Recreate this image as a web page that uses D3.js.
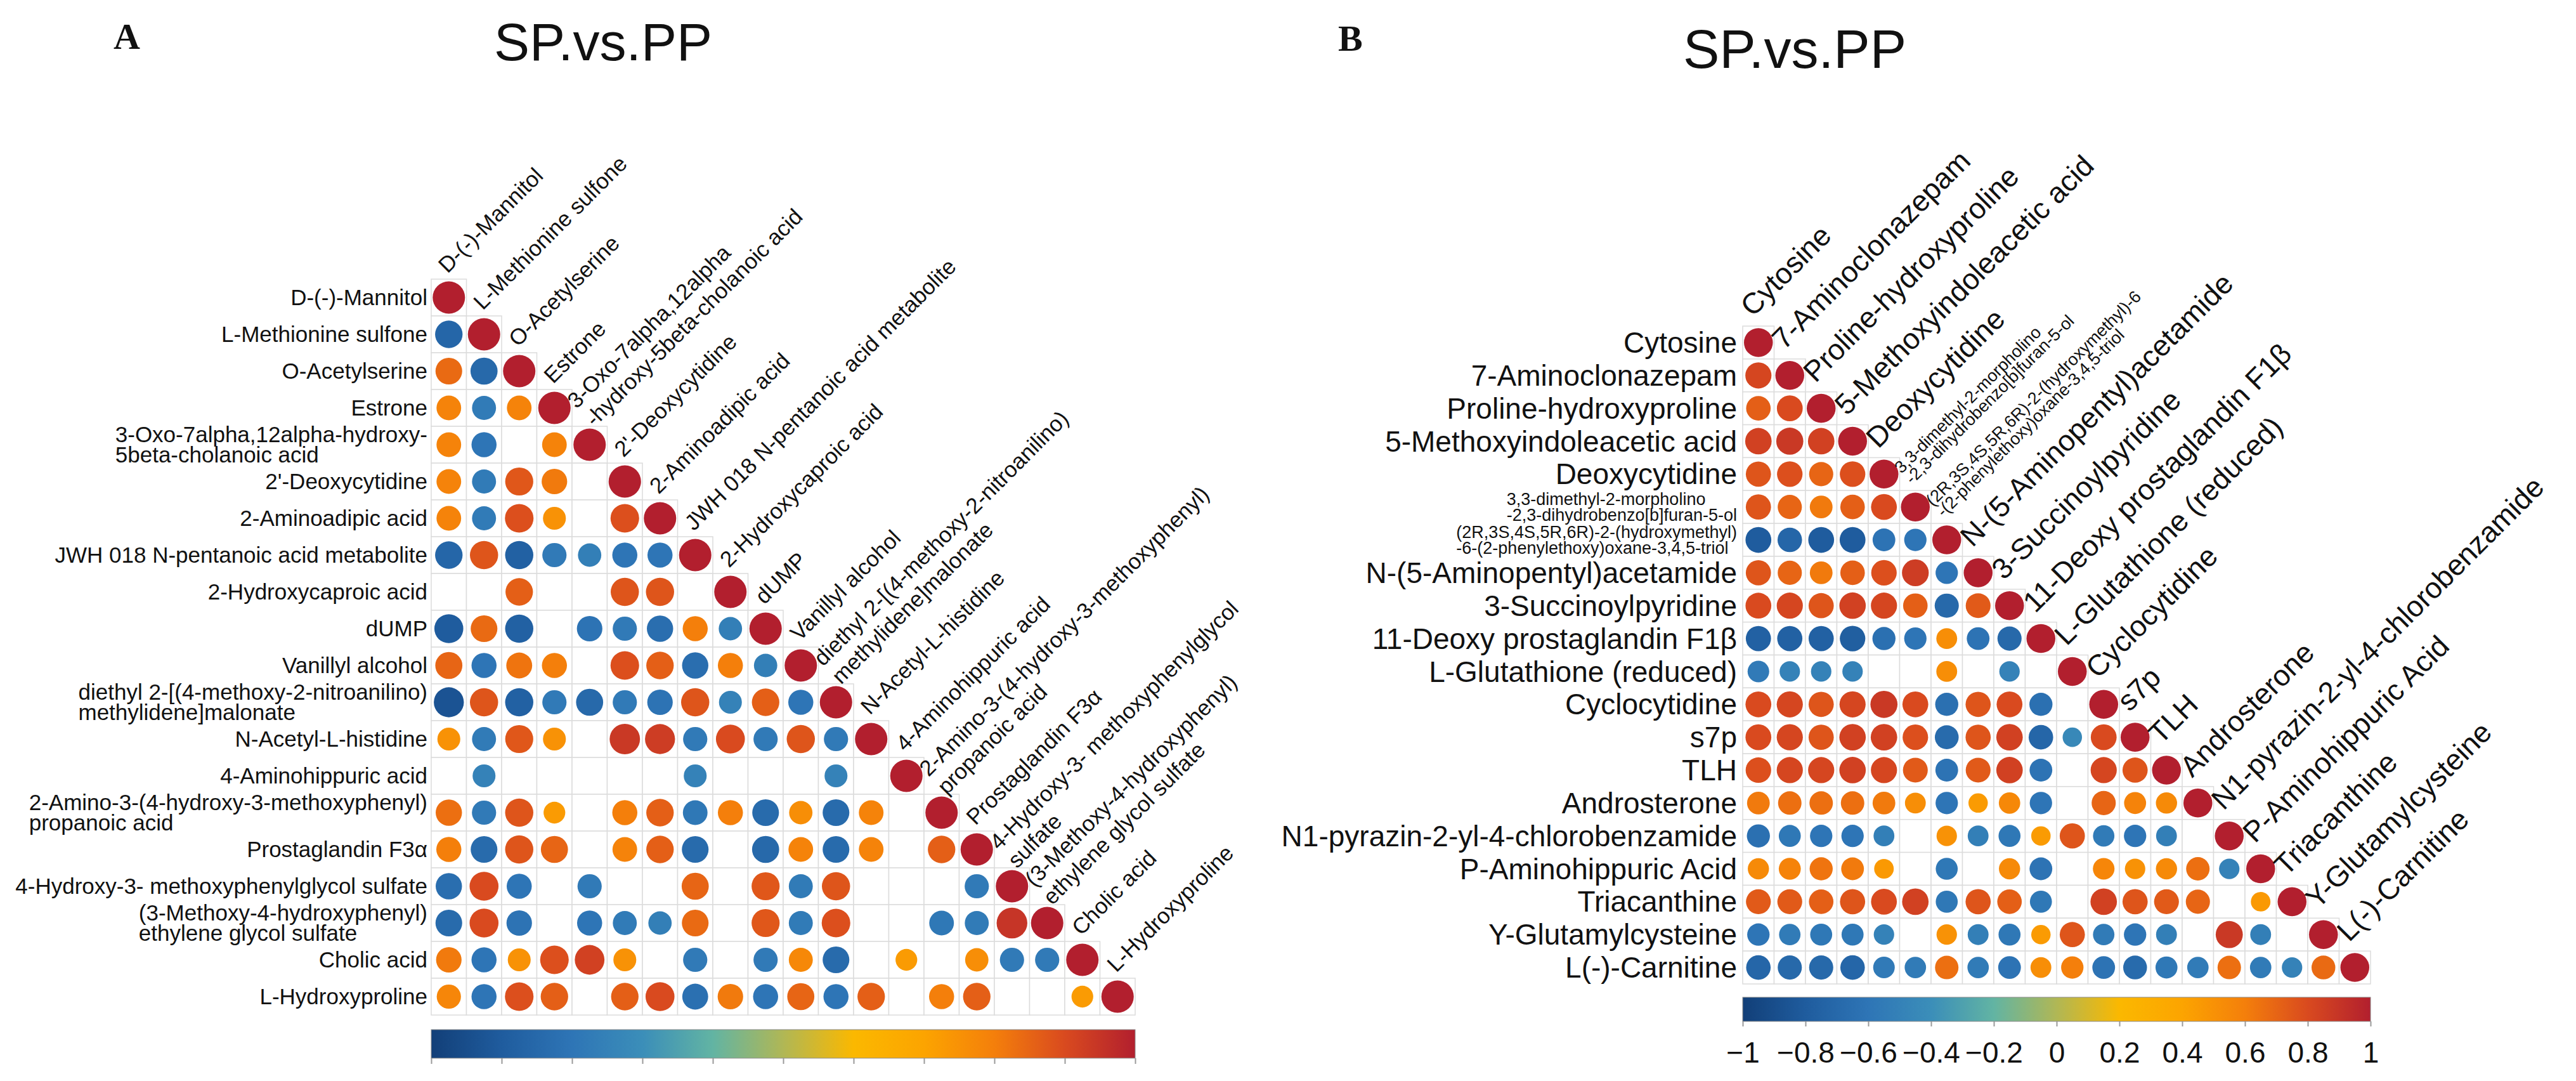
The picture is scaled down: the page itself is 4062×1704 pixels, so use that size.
<!DOCTYPE html>
<html>
<head>
<meta charset="utf-8">
<script src="https://cdn.jsdelivr.net/npm/d3@7"></script>
<style>
  body { margin: 0; background: #fff; }
  text { font-family: "Liberation Sans", Arial, sans-serif; fill: #111; }
  .panel-tag { font-family: "Liberation Serif", "Times New Roman", serif; font-weight: bold; }
</style>
</head>
<body>
<svg id="chart" width="4062" height="1704"></svg>
<script>
// row and column names, panel A
const rowsA = [
  "D-(-)-Mannitol", "L-Methionine sulfone", "O-Acetylserine", "Estrone",
  "3-Oxo-7alpha,12alpha-hydroxy-\n5beta-cholanoic acid", "2'-Deoxycytidine",
  "2-Aminoadipic acid", "JWH 018 N-pentanoic acid metabolite", "2-Hydroxycaproic acid",
  "dUMP", "Vanillyl alcohol", "diethyl 2-[(4-methoxy-2-nitroanilino)\nmethylidene]malonate",
  "N-Acetyl-L-histidine", "4-Aminohippuric acid",
  "2-Amino-3-(4-hydroxy-3-methoxyphenyl)\npropanoic acid", "Prostaglandin F3\u03b1",
  "4-Hydroxy-3- methoxyphenylglycol sulfate",
  "(3-Methoxy-4-hydroxyphenyl)\nethylene glycol sulfate", "Cholic acid", "L-Hydroxyproline"
];
const colsA = [
  "D-(-)-Mannitol", "L-Methionine sulfone", "O-Acetylserine", "Estrone",
  "3-Oxo-7alpha,12alpha\n-hydroxy-5beta-cholanoic acid", "2'-Deoxycytidine",
  "2-Aminoadipic acid", "JWH 018 N-pentanoic acid metabolite", "2-Hydroxycaproic acid",
  "dUMP", "Vanillyl alcohol", "diethyl 2-[(4-methoxy-2-nitroanilino)\nmethylidene]malonate",
  "N-Acetyl-L-histidine", "4-Aminohippuric acid",
  "2-Amino-3-(4-hydroxy-3-methoxyphenyl)\npropanoic acid", "Prostaglandin F3\u03b1",
  "4-Hydroxy-3- methoxyphenylglycol\nsulfate",
  "(3-Methoxy-4-hydroxyphenyl)\nethylene glycol sulfate", "Cholic acid", "L-Hydroxyproline"
];

// lower triangle correlations, panel A (null = not shown)
const corrA = [
  [1],
  [-0.72, 1],
  [0.68, -0.7, 1],
  [0.58, -0.55, 0.58, 1],
  [0.58, -0.6, null, 0.58, 1],
  [0.58, -0.55, 0.75, 0.62, null, 1],
  [0.58, -0.55, 0.78, 0.5, null, 0.78, 1],
  [-0.72, 0.76, -0.76, -0.56, -0.52, -0.6, -0.6, 1],
  [null, null, 0.72, null, null, 0.76, 0.76, null, 1],
  [-0.8, 0.68, -0.76, null, -0.62, -0.56, -0.66, 0.6, -0.52, 1],
  [0.7, -0.6, 0.64, 0.6, null, 0.78, 0.72, -0.66, 0.6, -0.52, 1],
  [-0.86, 0.76, -0.76, -0.56, -0.7, -0.56, -0.62, 0.76, -0.5, 0.72, -0.6, 1],
  [0.5, -0.55, 0.75, 0.5, null, 0.88, 0.86, -0.56, 0.8, -0.56, 0.76, -0.56, 1],
  [null, -0.5, null, null, null, null, null, -0.5, null, null, null, -0.5, null, 1],
  [0.66, -0.56, 0.76, 0.45, null, 0.6, 0.72, -0.58, 0.6, -0.68, 0.52, -0.68, 0.58, null, 1],
  [0.6, -0.68, 0.76, 0.7, null, 0.58, 0.72, -0.68, null, -0.7, 0.58, -0.68, 0.58, null, 0.72, 1],
  [-0.66, 0.8, -0.6, null, -0.56, null, null, 0.7, null, 0.75, -0.55, 0.76, null, null, null, -0.56, 1],
  [-0.68, 0.8, -0.62, null, -0.6, -0.55, -0.52, 0.68, null, 0.75, -0.55, 0.78, null, null, -0.58, -0.55, 0.9, 1],
  [0.62, -0.6, 0.5, 0.78, 0.84, 0.5, null, -0.56, null, -0.56, 0.55, -0.68, null, 0.45, null, 0.52, -0.56, -0.56, 1],
  [0.56, -0.6, 0.78, 0.72, null, 0.72, 0.8, -0.64, 0.62, -0.6, 0.7, -0.6, 0.72, null, 0.6, 0.72, null, null, 0.45, 1]
];

// row and column names, panel B
const rowsB = [
  "Cytosine", "7-Aminoclonazepam", "Proline-hydroxyproline", "5-Methoxyindoleacetic acid",
  "Deoxycytidine", "3,3-dimethyl-2-morpholino\n-2,3-dihydrobenzo[b]furan-5-ol",
  "(2R,3S,4S,5R,6R)-2-(hydroxymethyl)\n-6-(2-phenylethoxy)oxane-3,4,5-triol",
  "N-(5-Aminopentyl)acetamide", "3-Succinoylpyridine", "11-Deoxy prostaglandin F1\u03b2",
  "L-Glutathione (reduced)", "Cyclocytidine", "s7p", "TLH", "Androsterone",
  "N1-pyrazin-2-yl-4-chlorobenzamide", "P-Aminohippuric Acid", "Triacanthine",
  "Y-Glutamylcysteine", "L(-)-Carnitine"
];
const colsB = [
  "Cytosine", "7-Aminoclonazepam", "Proline-hydroxyproline", "5-Methoxyindoleacetic acid",
  "Deoxycytidine", "3,3-dimethyl-2-morpholino\n-2,3-dihydrobenzo[b]furan-5-ol",
  "(2R,3S,4S,5R,6R)-2-(hydroxymethyl)-6\n-(2-phenylethoxy)oxane-3,4,5-triol",
  "N-(5-Aminopentyl)acetamide", "3-Succinoylpyridine", "11-Deoxy prostaglandin F1\u03b2",
  "L-Glutathione (reduced)", "Cyclocytidine", "s7p", "TLH", "Androsterone",
  "N1-pyrazin-2-yl-4-chlorobenzamide", "P-Aminohippuric Acid", "Triacanthine",
  "Y-Glutamylcysteine", "L(-)-Carnitine"
];

const corrB = [
  [1],
  [0.82, 1],
  [0.72, 0.8, 1],
  [0.84, 0.88, 0.84, 1],
  [0.76, 0.78, 0.7, 0.78, 1],
  [0.76, 0.7, 0.62, 0.72, 0.8, 1],
  [-0.8, -0.72, -0.8, -0.8, -0.62, -0.6, 1],
  [0.76, 0.7, 0.62, 0.72, 0.78, 0.86, -0.6, 1],
  [0.8, 0.82, 0.76, 0.84, 0.82, 0.72, -0.7, 0.74, 1],
  [-0.76, -0.76, -0.76, -0.78, -0.64, -0.6, 0.52, -0.62, -0.7, 1],
  [-0.56, -0.5, -0.5, -0.5, null, null, 0.52, null, -0.5, null, 1],
  [0.8, 0.82, 0.76, 0.82, 0.88, 0.8, -0.64, 0.76, 0.8, -0.64, null, 1],
  [0.8, 0.82, 0.76, 0.84, 0.84, 0.78, -0.68, 0.76, 0.84, -0.72, -0.45, 0.8, 1],
  [0.78, 0.82, 0.82, 0.84, 0.82, 0.74, -0.62, 0.74, 0.84, -0.62, null, 0.82, 0.76, 1],
  [0.62, 0.66, 0.66, 0.66, 0.62, 0.52, -0.6, 0.45, 0.55, -0.6, null, 0.7, 0.58, 0.54, 1],
  [-0.64, -0.58, -0.6, -0.6, -0.52, null, 0.5, -0.52, -0.58, 0.45, 0.76, -0.55, -0.6, -0.52, null, 1],
  [0.54, 0.58, 0.64, 0.62, 0.46, null, -0.58, null, 0.54, -0.62, null, 0.56, 0.5, 0.54, 0.66, -0.5, 1],
  [0.74, 0.74, 0.72, 0.76, 0.8, 0.84, -0.58, 0.76, 0.72, -0.58, null, 0.84, 0.76, 0.74, 0.7, null, 0.46, 1],
  [-0.6, -0.55, -0.58, -0.58, -0.5, null, 0.5, -0.52, -0.58, 0.45, 0.76, -0.55, -0.6, -0.52, null, 0.88, -0.52, null, 1],
  [-0.72, -0.7, -0.7, -0.72, -0.56, -0.55, 0.66, -0.55, -0.62, 0.52, 0.6, -0.62, -0.68, -0.58, -0.55, 0.66, -0.55, -0.5, 0.68, 1]
];

// colour bar
const barTicks = [-1, -0.8, -0.6, -0.4, -0.2, 0, 0.2, 0.4, 0.6, 0.8, 1];
const stopColors = ["#123f78", "#1f5c9e", "#2e75b6", "#3b8eb9", "#62b4a3", "#b0b755",
                    "#fbb800", "#fca400", "#f47f0b", "#d94a1f", "#b21f2e"];

const color = d3.scaleLinear().domain(barTicks).range(stopColors);

const svg = d3.select("#chart");
svg.append("rect").attr("width", 4062).attr("height", 1704).attr("fill", "#fff");
const defs = svg.append("defs");

function drawPanel(p) {
  const n = p.rows.length;
  const idx = d3.range(n);
  const x = d3.scaleBand().domain(idx).range([p.x0, p.x0 + p.cw * n]);
  const y = d3.scaleBand().domain(idx).range([p.y0, p.y0 + p.ch * n]);
  const size = d3.scaleSqrt().domain([0, 1]).range([0, 0.46 * Math.min(p.cw, p.ch)]);
  const cells = p.corr.flatMap((row, i) => row.map((v, j) => ({ i, j, v })));

  const g = svg.append("g");

  g.selectAll("rect.cell").data(cells).join("rect")
    .attr("class", "cell")
    .attr("x", d => x(d.j)).attr("y", d => y(d.i))
    .attr("width", x.bandwidth()).attr("height", y.bandwidth())
    .attr("fill", "#fff").attr("stroke", "#dcdcdc").attr("stroke-width", 1.5);

  g.selectAll("circle").data(cells.filter(d => d.v !== null)).join("circle")
    .attr("cx", d => x(d.j) + x.bandwidth() / 2)
    .attr("cy", d => y(d.i) + y.bandwidth() / 2)
    .attr("r", d => size(Math.abs(d.v)))
    .attr("fill", d => color(d.v));

  // row names, multi-line ones as a left aligned block
  g.selectAll("g.rowlab").data(p.rows).join("g")
    .attr("class", "rowlab")
    .each(function (lab, i) {
      const lines = lab.split("\n");
      const multi = lines.length > 1;
      const t = d3.select(this).append("text").attr("font-size", multi ? p.multiFont : p.font);
      lines.forEach((s, k) => t.append("tspan")
        .attr("x", 0)
        .attr("y", (k - (lines.length - 1) / 2) * p.multiLh)
        .attr("dy", "0.35em")
        .text(s));
      const w = t.node().getBBox().width;
      d3.select(this).attr("transform",
        `translate(${p.x0 - p.gap - w},${y(i) + y.bandwidth() / 2})`);
    });

  // column names, rotated over the diagonal
  g.selectAll("g.collab").data(p.cols).join("g")
    .attr("class", "collab")
    .attr("transform", (d, i) =>
      `translate(${x(i) + x.bandwidth() / 2 + p.colDx},${y(i) + p.colDy}) rotate(-45)`)
    .each(function (lab) {
      const lines = lab.split("\n");
      const multi = lines.length > 1;
      const t = d3.select(this).append("text").attr("font-size", multi ? p.multiFont : p.font);
      lines.forEach((s, k) => t.append("tspan")
        .attr("x", 0)
        .attr("y", multi ? (k - (lines.length - 1) / 2) * p.colLh - 6 : 0)
        .text(s));
    });

  // colour bar
  const bar = d3.scaleLinear().domain([-1, 1]).range([p.x0, p.x0 + p.cw * n]);
  const grad = defs.append("linearGradient").attr("id", "grad" + p.id)
    .attr("x1", "0%").attr("x2", "100%").attr("y1", "0%").attr("y2", "0%");
  grad.selectAll("stop").data(barTicks).join("stop")
    .attr("offset", d => ((d + 1) / 2 * 100) + "%")
    .attr("stop-color", d => color(d));
  svg.append("rect")
    .attr("x", bar(-1)).attr("y", p.barY)
    .attr("width", bar(1) - bar(-1)).attr("height", p.barH)
    .attr("fill", `url(#grad${p.id})`)
    .attr("stroke", "#8a8a8a").attr("stroke-width", 1);

  const axis = d3.axisBottom(bar)
    .tickValues(barTicks)
    .tickSize(p.tick)
    .tickPadding(24)
    .tickFormat(p.tickLabels ? d3.format("") : () => "");
  svg.append("g")
    .attr("transform", `translate(0,${p.barY + p.barH})`)
    .call(axis)
    .attr("font-family", null).attr("font-size", null)
    .call(a => a.select(".domain").remove())
    .call(a => a.selectAll("line").attr("stroke", "#9a9a9a").attr("stroke-width", 2))
    .call(a => a.selectAll("text").attr("font-size", 46).attr("fill", "#111"));

  // titles
  svg.append("text").attr("x", p.titleX).attr("y", p.titleY)
    .attr("text-anchor", "middle").attr("font-size", p.titleSize).text("SP.vs.PP");
  svg.append("text").attr("class", "panel-tag")
    .attr("x", p.tagX).attr("y", p.tagY).attr("font-size", 58).text(p.id);
}

drawPanel({
  id: "A", rows: rowsA, cols: colsA, corr: corrA,
  x0: 680, y0: 440, cw: 55.5, ch: 58,
  font: 35, multiFont: 35, multiLh: 32, colLh: 40, gap: 6,
  colDx: -2, colDy: -8,
  barY: 1623, barH: 45, tick: 9, tickLabels: false,
  titleX: 951, titleY: 95, titleSize: 84, tagX: 179, tagY: 77
});

drawPanel({
  id: "B", rows: rowsB, cols: colsB, corr: corrB,
  x0: 2748, y0: 514, cw: 49.5, ch: 51.85,
  font: 46, multiFont: 27, multiLh: 25, colLh: 24, gap: 9,
  colDx: -9, colDy: -13,
  barY: 1572, barH: 38, tick: 8, tickLabels: true,
  titleX: 2830, titleY: 107, titleSize: 86, tagX: 2110, tagY: 80
});
</script>
</body>
</html>
